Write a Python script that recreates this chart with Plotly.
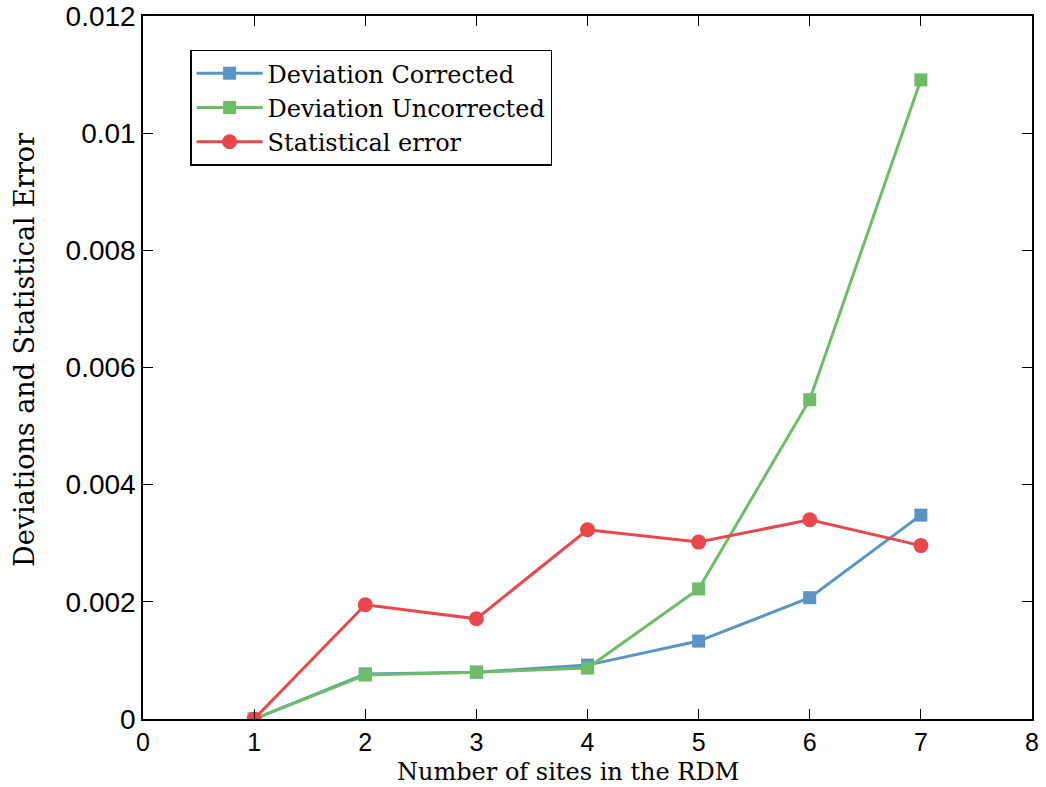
import plotly.graph_objects as go

sites = [1, 2, 3, 4, 5, 6, 7]
dev_corrected = [0.0, 0.00077, 0.00080, 0.00092, 0.00133, 0.00207, 0.00348]
dev_uncorrected = [0.0, 0.00075, 0.00080, 0.00087, 0.00222, 0.00545, 0.01091]
stat_error = [0.0, 0.00195, 0.00171, 0.00323, 0.00302, 0.00340, 0.00296]

x_ticks = [0, 1, 2, 3, 4, 5, 6, 7, 8]
y_ticks = [0, 0.002, 0.004, 0.006, 0.008, 0.010, 0.012]
y_tick_labels = ["0", "0.002", "0.004", "0.006", "0.008", "0.01", "0.012"]

x_title = "Number of sites in the RDM"
y_title = "Deviations and Statistical Error"

BLUE = "#5a94c4"
GREEN = "#6dbd68"
RED = "#e8474b"
SERIF = "DejaVu Serif, Liberation Serif, serif"
SANS = "Liberation Sans, Arial, sans-serif"

fig = go.Figure()
fig.add_trace(go.Scatter(x=sites, y=dev_corrected, mode="lines+markers",
                         name="Deviation Corrected",
                         line=dict(color=BLUE, width=3),
                         marker=dict(symbol="square", size=13, color=BLUE)))
fig.add_trace(go.Scatter(x=sites, y=dev_uncorrected, mode="lines+markers",
                         name="Deviation Uncorrected",
                         line=dict(color=GREEN, width=3),
                         marker=dict(symbol="square", size=13, color=GREEN)))
fig.add_trace(go.Scatter(x=sites, y=stat_error, mode="lines+markers",
                         name="Statistical error",
                         line=dict(color=RED, width=3),
                         marker=dict(symbol="circle", size=15, color=RED)))

axis_common = dict(showgrid=False, zeroline=False, showline=True, linecolor="black",
                   linewidth=1.5, mirror="allticks", ticks="inside", ticklen=10,
                   tickwidth=1, tickcolor="black", automargin=False)

fig.update_layout(
    width=1046, height=787,
    margin=dict(l=143, r=14, t=16, b=68),
    paper_bgcolor="white", plot_bgcolor="white",
    xaxis=dict(range=[0, 8], tickvals=x_ticks,
               tickfont=dict(family=SANS, size=25, color="black"), **axis_common),
    yaxis=dict(range=[0, 0.012], tickvals=y_ticks, ticktext=y_tick_labels,
               tickfont=dict(family=SANS, size=28, color="black"), **axis_common),
    legend=dict(x=0.053, y=0.952, xanchor="left", yanchor="top",
                bgcolor="white", bordercolor="black", borderwidth=1.5,
                font=dict(family=SERIF, size=24, color="black"),
                tracegroupgap=0, itemwidth=66),
    showlegend=True,
    annotations=[
        dict(text=x_title, xref="paper", yref="paper", x=0.478, y=-0.0962,
             xanchor="center", yanchor="bottom", showarrow=False, borderpad=0,
             font=dict(family=SERIF, size=24, color="black")),
        dict(text=y_title, xref="paper", yref="paper", x=-0.1327, y=0.525,
             xanchor="center", yanchor="middle", showarrow=False, textangle=-90,
             font=dict(family=SERIF, size=27, color="black")),
    ],
)

fig.write_html("out.html", config={"displayModeBar": False},
               post_script="document.body.style.margin='0';")
